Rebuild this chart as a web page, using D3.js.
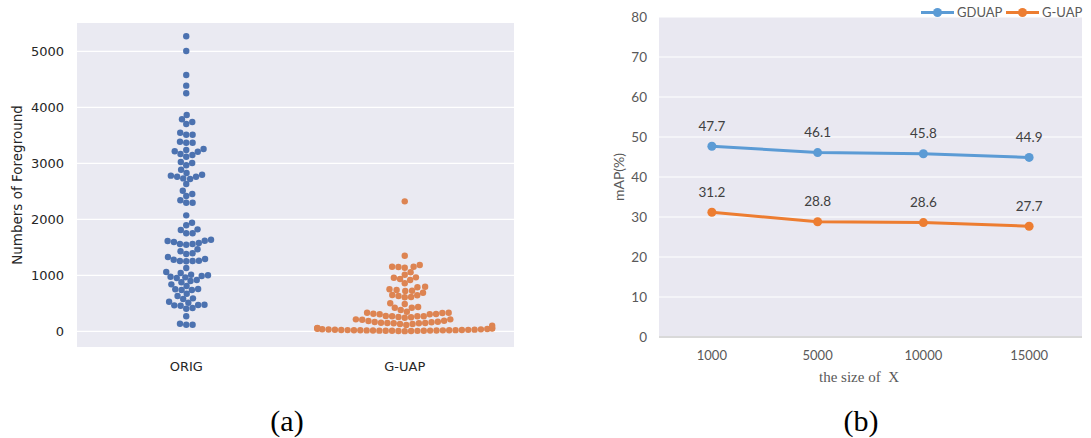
<!doctype html>
<html>
  <head>
    <meta charset="utf-8">
    <script src="https://cdn.jsdelivr.net/npm/d3@7"></script>
    <style>
      body { margin: 0; background: #fff; }
    </style>
  </head>
  <body>
    <script>
    // ---- data (a): foreground counts per image
    var swarmCats = ["ORIG", "G-UAP"];
    var origValues = [5268, 5005, 4577, 4386, 4250, 3862, 3786, 3738, 3702, 3546, 3511, 3511,
      3386, 3368, 3368, 3255, 3238, 3207, 3214, 3166, 3148, 3118, 3023, 3005, 2964, 2886,
      2827, 2796, 2761, 2720, 2730, 2761, 2779, 2630, 2511, 2452, 2416, 2339, 2296, 2296,
      2071, 1939, 1893, 1809, 1821, 1750, 1750, 1618, 1595, 1559, 1546, 1559, 1577, 1612,
      1636, 1464, 1393, 1380, 1429, 1291, 1261, 1255, 1250, 1255, 1279, 1327, 1130, 1011,
      975, 1041, 964, 1059, 988, 952, 1000, 898, 916, 875, 839, 809, 755, 750, 738, 738,
      671, 630, 589, 577, 511, 529, 475, 464, 404, 416, 457, 470, 268, 118, 118, 136];
    var guapValues = [2321, 1350, 1184, 1154, 1136, 1148, 1154, 1054, 1011, 964, 916, 934,
      957, 857, 796, 786, 750, 725, 720, 738, 689, 648, 613, 607, 630, 643, 500, 488, 434,
      421, 421, 380, 350, 327, 332, 314, 304, 268, 268, 243, 214, 250, 255, 268, 273, 304,
      309, 332, 207, 189, 171, 161, 148, 143, 130, 113, 100, 130, 143, 148, 154, 166, 184,
      214, 3, 5, 6, 8, 9, 10, 11, 12, 13, 14, 15, 16, 17, 18, 19, 20, 21, 22, 23, 24, 26,
      28, 30, 32, 35, 38, 42, 46, 50, 55, 58, 62];
    var swarmTicks = [0, 1000, 2000, 3000, 4000, 5000];

    // ---- data (b): mAP vs size of X
    var sizes = ["1000", "5000", "10000", "15000"];
    var gduap = [47.7, 46.1, 45.8, 44.9];
    var guap = [31.2, 28.8, 28.6, 27.7];
    var mapTicks = [0, 10, 20, 30, 40, 50, 60, 70, 80];

    var width = 1091, height = 438;
    var svg = d3.select("body").append("svg")
      .attr("width", width).attr("height", height);

    // ================= panel (a) =================
    var a = { left: 77, right: 514, top: 23, bottom: 347 };
    var xa = d3.scaleBand().domain(swarmCats).range([a.left, a.right]);
    var ya = d3.scaleLinear().domain([-280, 5505]).range([a.bottom, a.top]);

    svg.append("rect")
      .attr("x", a.left).attr("y", a.top)
      .attr("width", a.right - a.left).attr("height", a.bottom - a.top)
      .attr("fill", "#eaeaf2");

    svg.append("g").selectAll("line").data(swarmTicks).join("line")
      .attr("x1", a.left).attr("x2", a.right)
      .attr("y1", function(d) { return ya(d); }).attr("y2", function(d) { return ya(d); })
      .attr("stroke", "#fff").attr("stroke-width", 1.2);

    svg.append("g").selectAll("text").data(swarmTicks).join("text")
      .attr("x", 64).attr("y", function(d) { return ya(d) + 5; })
      .attr("text-anchor", "end")
      .attr("font-family", "DejaVu Sans").attr("font-size", "13px").attr("fill", "#262626")
      .text(function(d) { return d; });

    svg.append("g").selectAll("text").data(swarmCats).join("text")
      .attr("x", function(d) { return xa(d) + xa.bandwidth() / 2; }).attr("y", 371)
      .attr("text-anchor", "middle")
      .attr("font-family", "DejaVu Sans").attr("font-size", "13px").attr("fill", "#262626")
      .text(function(d) { return d; });

    svg.append("text")
      .attr("transform", "translate(22," + ((a.top + a.bottom) / 2) + ") rotate(-90)")
      .attr("text-anchor", "middle")
      .attr("font-family", "DejaVu Sans").attr("font-size", "13.5px").attr("fill", "#262626")
      .text("Numbers of Foreground");

    // beeswarm: place points in value order, nearest free spot to the centre line
    var r = 3.2, diam = 6.35;
    function swarm(values, limit) {
      var pts = values.map(function(v) { return { v: v, y: ya(v) }; })
        .sort(function(p, q) { return p.v - q.v; });
      var placed = [];
      pts.forEach(function(p) {
        var near = placed.filter(function(q) { return Math.abs(q.y - p.y) < diam; });
        var cand = [0];
        near.forEach(function(q) {
          var dx = Math.sqrt(diam * diam - (p.y - q.y) * (p.y - q.y));
          cand.push(q.x + dx, q.x - dx);
        });
        cand.sort(function(u, w) { return Math.abs(u) - Math.abs(w); });
        var x = cand.find(function(c) {
          return near.every(function(q) {
            return (c - q.x) * (c - q.x) + (p.y - q.y) * (p.y - q.y) >= diam * diam - 0.01;
          });
        });
        p.x = Math.max(-limit, Math.min(limit, x));
        placed.push(p);
      });
      return placed;
    }

    var swarmColors = ["#4c72b0", "#dd8452"];
    [origValues, guapValues].forEach(function(vals, i) {
      var cx = xa(swarmCats[i]) + xa.bandwidth() / 2;
      svg.append("g").selectAll("circle").data(swarm(vals, xa.bandwidth() * 0.4)).join("circle")
        .attr("cx", function(d) { return cx + d.x; })
        .attr("cy", function(d) { return d.y; })
        .attr("r", r)
        .attr("fill", swarmColors[i]);
    });

    // ================= panel (b) =================
    var b = { left: 659, right: 1082, top: 17, bottom: 337 };
    var xb = d3.scaleBand().domain(sizes).range([b.left, b.right]);
    var yb = d3.scaleLinear().domain([0, 80]).range([b.bottom, b.top]);

    svg.append("rect")
      .attr("x", b.left).attr("y", b.top)
      .attr("width", b.right - b.left).attr("height", b.bottom - b.top)
      .attr("fill", "#e9e8f1");

    svg.append("g").selectAll("line").data(mapTicks.slice(1)).join("line")
      .attr("x1", b.left).attr("x2", b.right)
      .attr("y1", function(d) { return yb(d); }).attr("y2", function(d) { return yb(d); })
      .attr("stroke", "#fff").attr("stroke-width", 1.2);

    svg.append("line")
      .attr("x1", b.left).attr("x2", b.right)
      .attr("y1", yb(0)).attr("y2", yb(0))
      .attr("stroke", "#d9d9d9").attr("stroke-width", 2);

    svg.append("g").selectAll("text").data(mapTicks).join("text")
      .attr("x", 647).attr("y", function(d) { return yb(d) + 4.5; })
      .attr("text-anchor", "end")
      .attr("font-family", "Lato").attr("font-size", "13.5px").attr("fill", "#595959")
      .text(function(d) { return d; });

    svg.append("g").selectAll("text").data(sizes).join("text")
      .attr("x", function(d) { return xb(d) + xb.bandwidth() / 2; }).attr("y", 360)
      .attr("text-anchor", "middle")
      .attr("font-family", "Lato").attr("font-size", "13px").attr("fill", "#595959")
      .text(function(d) { return d; });

    svg.append("text")
      .attr("x", 859).attr("y", 382)
      .attr("text-anchor", "middle")
      .attr("font-family", "Liberation Serif").attr("font-size", "15px").attr("fill", "#595959")
      .attr("xml:space", "preserve")
      .text("the size of  X");

    svg.append("text")
      .attr("transform", "translate(624," + 177 + ") rotate(-90)")
      .attr("text-anchor", "middle")
      .attr("font-family", "Lato").attr("font-size", "14px").attr("fill", "#595959")
      .text("mAP(%)");

    var series = [
      { name: "GDUAP", values: gduap, color: "#5b9bd5" },
      { name: "G-UAP", values: guap, color: "#ed7d31" }
    ];
    var line = d3.line()
      .x(function(d, i) { return xb(sizes[i]) + xb.bandwidth() / 2; })
      .y(function(d) { return yb(d); });

    series.forEach(function(s) {
      svg.append("path").datum(s.values)
        .attr("d", line).attr("fill", "none")
        .attr("stroke", s.color).attr("stroke-width", 3).attr("stroke-linejoin", "round");
      svg.append("g").selectAll("circle").data(s.values).join("circle")
        .attr("cx", function(d, i) { return xb(sizes[i]) + xb.bandwidth() / 2; })
        .attr("cy", function(d) { return yb(d); })
        .attr("r", 4.5).attr("fill", s.color);
      svg.append("g").selectAll("text").data(s.values).join("text")
        .attr("x", function(d, i) { return xb(sizes[i]) + xb.bandwidth() / 2; })
        .attr("y", function(d) { return yb(d) - 15.5; })
        .attr("text-anchor", "middle")
        .attr("font-family", "Lato").attr("font-size", "13.5px").attr("fill", "#404040")
        .text(function(d) { return d.toFixed(1); });
    });

    // legend
    var legX = [921, 1006];
    series.forEach(function(s, i) {
      var g = svg.append("g").attr("transform", "translate(" + legX[i] + ",12.5)");
      g.append("line").attr("x1", 0).attr("x2", 33).attr("stroke", s.color).attr("stroke-width", 3);
      g.append("circle").attr("cx", 16.5).attr("r", 4.5).attr("fill", s.color);
      g.append("text").attr("x", 36).attr("y", 4.5)
        .attr("font-family", "Lato").attr("font-size", "13px").attr("fill", "#595959")
        .text(s.name);
    });

    // captions
    svg.append("g").selectAll("text").data(["(a)", "(b)"]).join("text")
      .attr("x", function(d, i) { return [287, 861][i]; }).attr("y", 431)
      .attr("text-anchor", "middle")
      .attr("font-family", "Liberation Serif").attr("font-size", "30px").attr("fill", "#000")
      .text(function(d) { return d; });
    </script>
  </body>
</html>
